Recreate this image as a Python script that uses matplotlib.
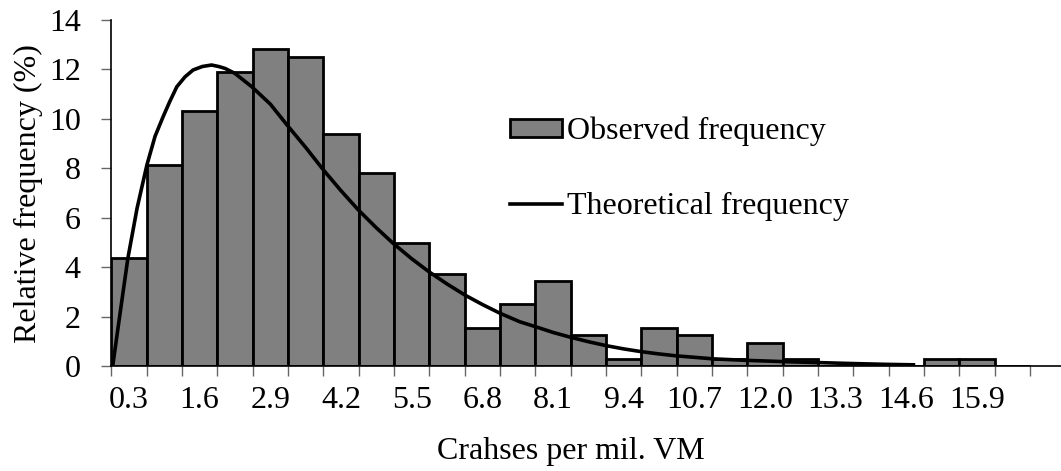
import numpy as np
import matplotlib
matplotlib.use("Agg")
import matplotlib.pyplot as plt

plt.rcParams['font.family'] = ['Liberation Serif', 'DejaVu Serif']

# bins of crashes per mil. VM (bin centres, width 0.65)
bin_centers = [0.3 + 0.65 * k for k in range(26)]
bin_width = 0.65
observed = [4.38, 8.13, 10.31, 11.88, 12.81, 12.50, 9.38, 7.81, 5.00, 3.75,
            1.56, 2.50, 3.44, 1.25, 0.31, 1.56, 1.25, 0.31, 0.94, 0.31,
            0.0, 0.0, 0.0, 0.31, 0.31, 0.0]

# theoretical curve
theo_x = [0.0, 0.14, 0.28, 0.45, 0.63, 0.78, 0.93, 1.05, 1.18, 1.33, 1.48,
          1.65, 1.82, 1.95, 2.07, 2.25, 2.56, 2.90, 3.21, 3.55, 3.88, 4.20,
          4.52, 4.85, 5.16, 5.50, 5.82, 6.15, 6.48, 6.80, 7.13, 7.49, 7.78,
          8.10, 8.43, 8.76, 9.09, 9.41, 9.73, 10.05, 10.38, 10.72, 11.05,
          11.66, 12.34, 12.98, 13.63, 14.20, 14.73]
theo_y = [0.0, 2.2, 4.37, 6.4, 8.14, 9.3, 10.1, 10.7, 11.3, 11.7, 11.98,
          12.12, 12.18, 12.12, 12.04, 11.84, 11.3, 10.6, 9.75, 8.85, 7.93, 7.1,
          6.32, 5.6, 4.97, 4.35, 3.82, 3.33, 2.88, 2.5, 2.14, 1.80, 1.60,
          1.37, 1.17, 0.99, 0.83, 0.70, 0.59, 0.50, 0.42, 0.36, 0.30,
          0.24, 0.19, 0.15, 0.11, 0.08, 0.06]

tick_labels = ["%.1f" % c if k % 2 == 0 else "" for k, c in enumerate(bin_centers)]

fs = 23
fig = plt.figure(figsize=(10.61, 4.71), dpi=100)
ax = fig.add_axes([111.3 / 1061, 1 - 366.3 / 471, (1061 - 111.3) / 1061, (366.3 - 20) / 471])

bars = ax.bar(bin_centers, observed, width=bin_width, color="#808080", edgecolor="black",
              linewidth=2.0, label="Observed frequency", zorder=2)
line, = ax.plot(theo_x, theo_y, color="black", linewidth=2.6, label="Theoretical frequency",
                zorder=3, solid_joinstyle="round")

left = bin_centers[0] - bin_width / 2
right = bin_centers[-1] + bin_width / 2
ax.set_xlim(left, right + 31 / 35.33 * bin_width)
ax.set_ylim(0, 14)

# tick marks on bin edges, labels under bin centres
edges = [left + bin_width * k for k in range(27)]
ax.set_xticks(edges)
ax.set_xticklabels([])
ax.set_xticks(bin_centers, minor=True)
ax.set_xticklabels(tick_labels, minor=True)
ax.tick_params(axis="x", which="major", length=7, width=1, color="0.4", direction="out")
ax.tick_params(axis="x", which="minor", length=0, pad=14, labelsize=fs)
ax.set_yticks(range(0, 15, 2))
ax.tick_params(axis="y", length=7, width=1, color="0.4", pad=15, labelsize=fs)

for s in ["top", "right"]:
    ax.spines[s].set_visible(False)
ax.spines["left"].set_linewidth(1.2)
ax.spines["bottom"].set_linewidth(1.2)

ax.set_xlabel("Crahses per mil. VM", fontsize=fs)
ax.xaxis.set_label_coords((571 - 111.3) / (1061 - 111.3), -0.205)
ax.set_ylabel("Relative frequency (%)", fontsize=fs)
ax.yaxis.set_label_coords(-0.072, 0.5)

ax.legend([bars, line], ["Observed frequency", "Theoretical frequency"],
          loc="upper left", bbox_to_anchor=(510 / 1061, 1 - 117 / 471),
          bbox_transform=fig.transFigure, frameon=False, fontsize=fs,
          handlelength=1.63, handleheight=0.47, handletextpad=0.16,
          labelspacing=1.42, borderpad=0, borderaxespad=0)

fig.savefig("out.png", dpi=100)
